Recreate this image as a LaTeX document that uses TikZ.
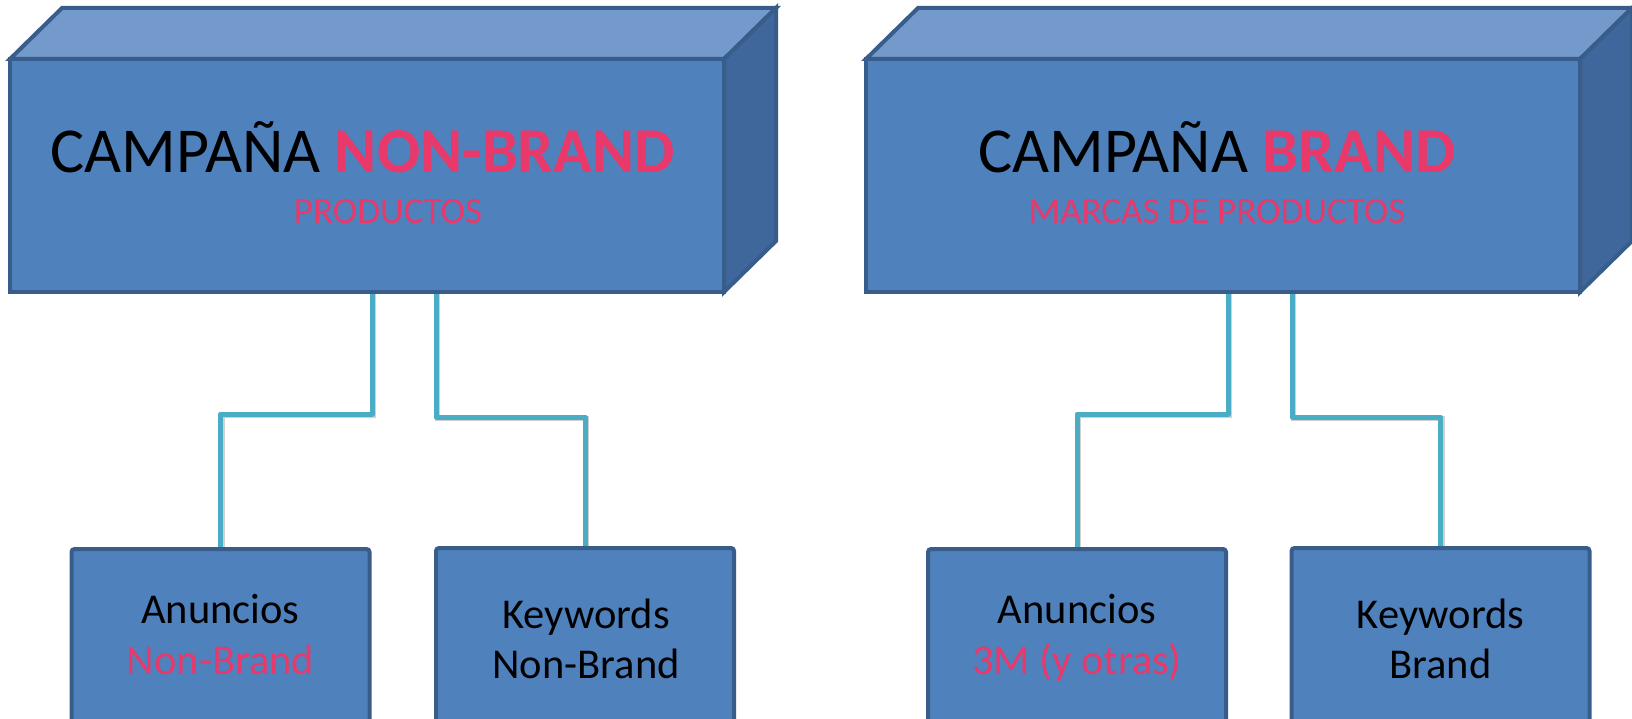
\documentclass[tikz,border=0pt]{standalone}
\usepackage{fontspec}
\setmainfont{Carlito}
\usetikzlibrary{calc,backgrounds}
\definecolor{frontc}{HTML}{4F81BD}
\definecolor{topc}{HTML}{739ACB}
\definecolor{sidec}{HTML}{3F679B}
\definecolor{edgec}{HTML}{385D8A}
\definecolor{pinkc}{HTML}{E9396A}
\definecolor{connc}{HTML}{4BACC6}
\tikzset{
  bigfront/.style={draw=edgec, fill=frontc, line width=4pt, outer sep=0pt, inner sep=0pt,
    minimum width=714pt, minimum height=233pt},
  topface/.style={draw=edgec, fill=topc, line width=4pt, line join=miter},
  sideface/.style={draw=edgec, fill=sidec, line width=4pt, line join=miter},
  childbox/.style={draw=edgec, fill=frontc, line width=4pt, rounded corners=3pt, outer sep=0pt,
    inner sep=0pt, minimum width=298pt, minimum height=180pt},
  conn/.style={draw=connc, line width=5pt, line join=round,
    preaction={draw=black, opacity=0.18, line width=5pt, transform canvas={shift={(1.5,1.5)}}}},
  titletxt/.style={inner sep=0pt, anchor=base, font=\fontsize{64}{76}\selectfont},
  subtxt/.style={inner sep=0pt, anchor=base, text=pinkc, font=\fontsize{37}{44}\selectfont},
  childtxt/.style={inner sep=0pt, anchor=base, font=\fontsize{42.5}{50}\selectfont},
}
\begin{document}
\begin{tikzpicture}[x=1pt, y=-1pt]
\useasboundingbox (0,0) rectangle (1632,719);
\clip (0,0) rectangle (1632,719);

% ---------- Left campaign box ----------
\node[bigfront] (nb) at (367,175.5) {};
\filldraw[topface] (nb.north west) -- ($(nb.north west)+(52,-51)$) -- ($(nb.north east)+(52,-51)$) -- (nb.north east) -- cycle;
\filldraw[sideface] (nb.north east) -- ($(nb.north east)+(52,-51)$) -- ($(nb.south east)+(52,-51)$) -- (nb.south east) -- cycle;
\node[titletxt] (nbt) at (363,173) {CAMPAÑA \textcolor{pinkc}{\bfseries NON-BRAND}};
\node[subtxt] (nbs) at (388,224) {PRODUCTOS};

% ---------- Right campaign box ----------
\node[bigfront] (br) at (1223,175.5) {};
\filldraw[topface] (br.north west) -- ($(br.north west)+(52,-51)$) -- ($(br.north east)+(52,-51)$) -- (br.north east) -- cycle;
\filldraw[sideface] (br.north east) -- ($(br.north east)+(52,-51)$) -- ($(br.south east)+(52,-51)$) -- (br.south east) -- cycle;
\node[titletxt] (brt) at (1217,173) {CAMPAÑA \textcolor{pinkc}{\bfseries BRAND}};
\node[subtxt] (brs) at (1217,224) {MARCAS DE PRODUCTOS};

% ---------- Child boxes ----------
\node[childbox] (a1) at (220.5,639) {};
\node[childbox] (k1) at (585,638) {};
\node[childbox] (a2) at (1077,639) {};
\node[childbox] (k2) at (1440.5,638) {};

\node[childtxt] (a1l1) at (220.5,623) {Anuncios};
\node[childtxt, text=pinkc] (a1l2) at (220.5,674) {Non-Brand};
\node[childtxt] (k1l1) at (586,628) {Keywords};
\node[childtxt] (k1l2) at (586,678) {Non-Brand};
\node[childtxt] (a2l1) at (1077,623) {Anuncios};
\node[childtxt, text=pinkc] (a2l2) at (1077,674) {3M (y otras)};
\node[childtxt] (k2l1) at (1440.5,628) {Keywords};
\node[childtxt] (k2l2) at (1440.5,678) {Brand};

% ---------- Connectors ----------
\coordinate (e1) at (372,414);
\coordinate (e2) at (436,417);
\coordinate (e3) at (1228,414);
\coordinate (e4) at (1292,417);
\begin{pgfonlayer}{background}
\draw[conn] (nb.south -| e1) -- (e1) -| (a1.north);
\draw[conn] (nb.south -| e2) -- (e2) -| (k1.north);
\draw[conn] (br.south -| e3) -- (e3) -| (a2.north);
\draw[conn] (br.south -| e4) -- (e4) -| (k2.north);
\end{pgfonlayer}
\end{tikzpicture}
\end{document}
